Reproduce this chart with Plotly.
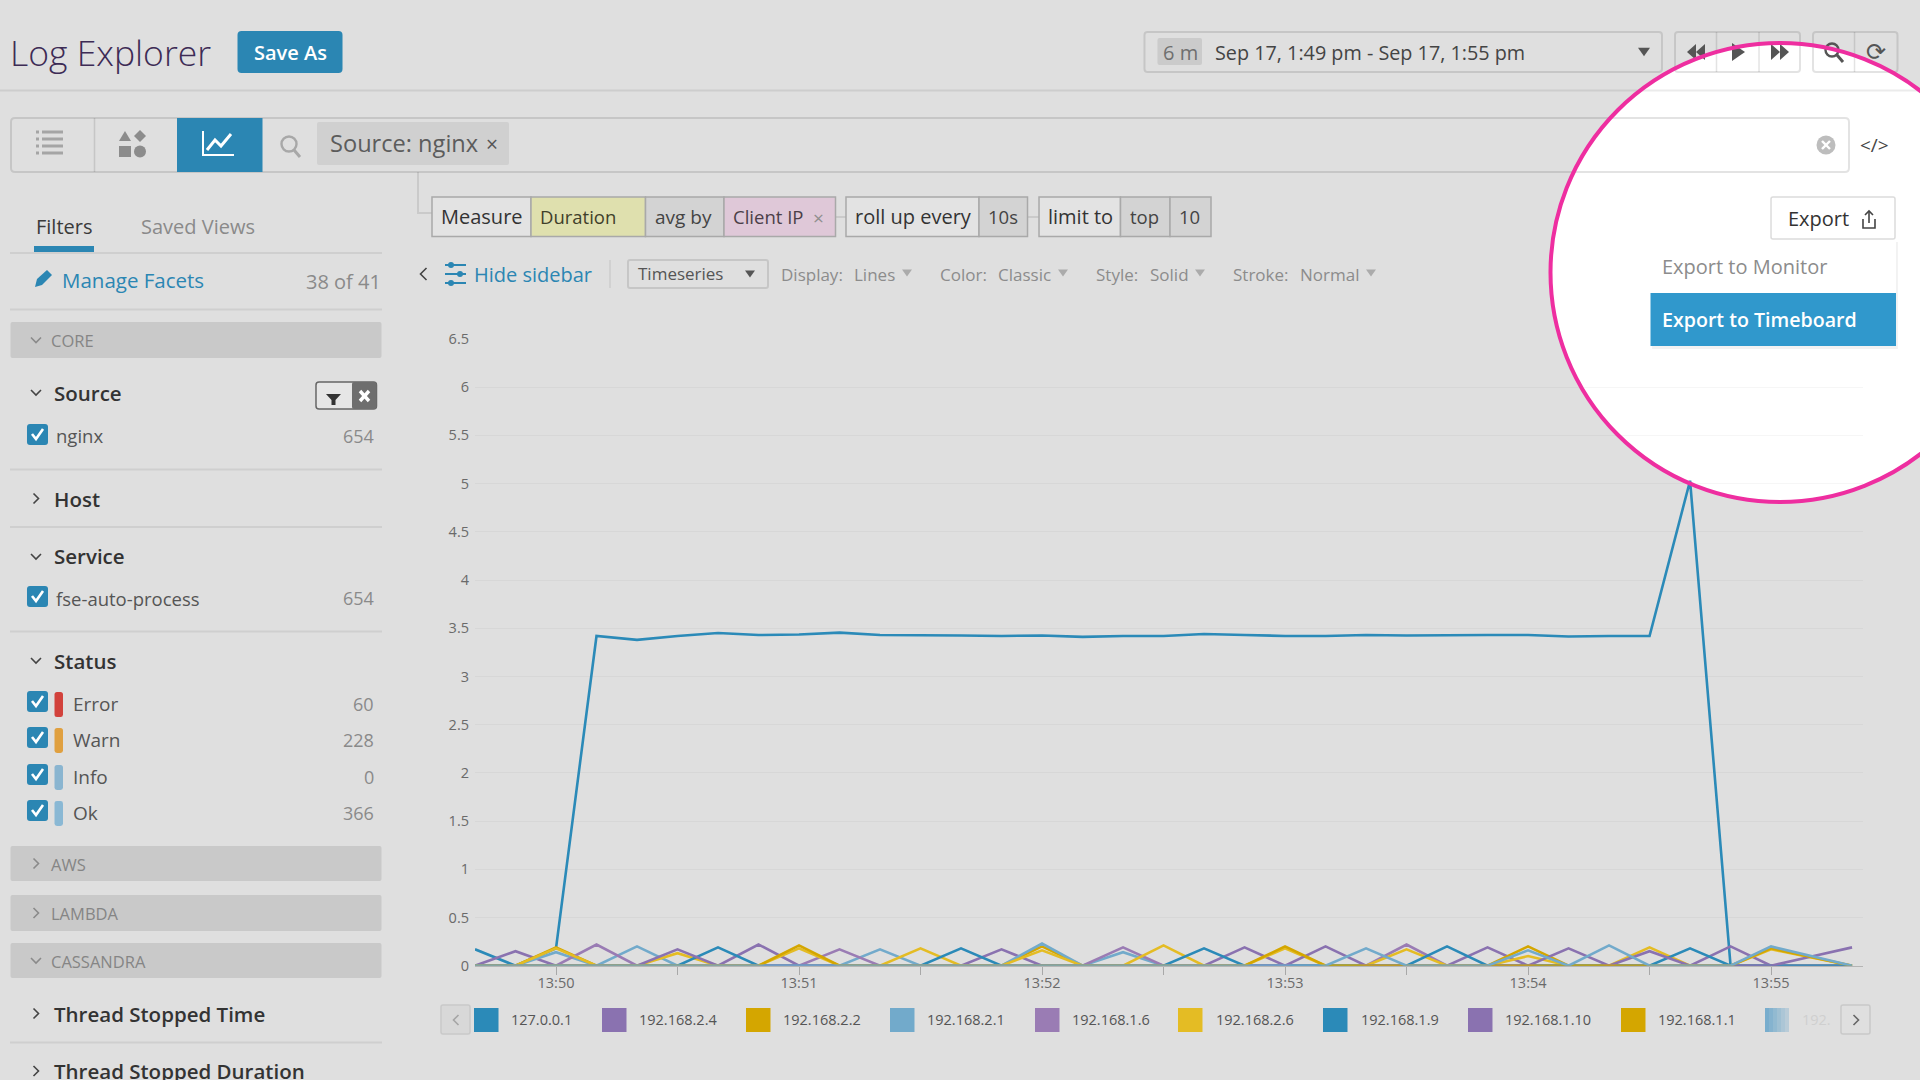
import pandas as pd
import plotly.graph_objects as go

W, H = 1920, 1080
FONT = "Open Sans"

TIMES = pd.date_range("2018-09-17 13:49:40", periods=35, freq="10s")

SERIES_NAMES = [
    "127.0.0.1", "192.168.2.4", "192.168.2.2", "192.168.2.1", "192.168.1.6",
    "192.168.2.6", "192.168.1.9", "192.168.1.10", "192.168.1.1", "192.",
]
SERIES_COLORS = [
    "#2b8ab8", "#8a72b0", "#d4a600", "#72aacb", "#9a7cb4",
    "#e4bc24", "#2b8ab8", "#8a72b0", "#d4a600", "#72aacb",
]

V_127_0_0_1 = [0.17, 0, 0.18, 3.42, 3.38, 3.42, 3.45, 3.43, 3.435, 3.455, 3.43, 3.43,
               3.425, 3.42, 3.425, 3.41, 3.42, 3.42, 3.44, 3.43, 3.42, 3.42, 3.43, 3.425,
               3.43, 3.43, 3.43, 3.415, 3.42, 3.42, 5.03, 0, 0, 0, 0]
V_2_4 = [0, 0.15, 0, 0, 0, 0, 0, 0.22, 0, 0, 0, 0, 0, 0.17, 0, 0, 0, 0, 0, 0.19, 0, 0, 0, 0,
         0, 0.19, 0, 0, 0, 0, 0, 0.2, 0, 0, 0]
V_2_2 = [0, 0, 0.19, 0, 0, 0, 0, 0, 0, 0, 0, 0, 0, 0, 0.2, 0, 0, 0, 0, 0, 0, 0, 0, 0,
         0, 0, 0.2, 0, 0, 0, 0, 0, 0, 0, 0]
V_2_1 = [0, 0, 0.14, 0, 0.2, 0, 0, 0, 0, 0, 0.17, 0, 0, 0, 0.23, 0, 0.14, 0, 0, 0, 0, 0, 0, 0,
         0, 0, 0, 0, 0, 0, 0, 0, 0, 0, 0]
V_1_6 = [0, 0, 0, 0.22, 0, 0, 0, 0, 0, 0.17, 0, 0, 0, 0, 0, 0, 0.19, 0, 0, 0, 0, 0, 0, 0.22,
         0, 0, 0, 0, 0, 0, 0, 0, 0, 0, 0]
V_2_6 = [0, 0, 0.18, 0, 0, 0.13, 0, 0, 0.18, 0, 0, 0.18, 0, 0, 0.16, 0, 0, 0.21, 0, 0, 0.18, 0, 0, 0.17,
         0, 0, 0.1, 0, 0, 0.19, 0, 0, 0.17, 0.085, 0]
V_1_9 = [0, 0, 0, 0, 0, 0, 0.19, 0, 0, 0, 0, 0, 0.18, 0, 0, 0, 0, 0, 0.18, 0, 0, 0, 0, 0,
         0.2, 0, 0, 0, 0, 0, 0.18, 0, 0, 0, 0]
V_1_10 = [0, 0, 0, 0, 0, 0.17, 0, 0, 0, 0, 0, 0, 0, 0, 0, 0, 0, 0, 0, 0, 0, 0.2, 0, 0,
          0, 0, 0, 0.18, 0, 0.15, 0, 0, 0, 0.095, 0.19]
V_1_1 = [0, 0, 0, 0, 0, 0, 0, 0, 0.21, 0, 0, 0, 0, 0, 0, 0, 0, 0, 0, 0, 0.2, 0, 0, 0,
         0, 0, 0, 0, 0, 0, 0, 0, 0.18, 0.09, 0]
V_LAST = [0, 0, 0, 0, 0, 0, 0, 0, 0, 0, 0, 0, 0, 0, 0, 0, 0, 0, 0, 0, 0, 0, 0.18, 0,
          0, 0, 0.16, 0, 0.21, 0, 0, 0, 0.2, 0.1, 0]
SERIES_VALUES = [V_127_0_0_1, V_2_4, V_2_2, V_2_1, V_1_6, V_2_6, V_1_9, V_1_10, V_1_1, V_LAST]

Y_TICKS = [0, 0.5, 1, 1.5, 2, 2.5, 3, 3.5, 4, 4.5, 5, 5.5, 6, 6.5]
Y_LABELS = ["0", "0.5", "1", "1.5", "2", "2.5", "3", "3.5", "4", "4.5", "5", "5.5", "6", "6.5"]
X_TICKS = pd.date_range("2018-09-17 13:50:00", periods=11, freq="30s")
X_LABELS = ["13:50", "", "13:51", "", "13:52", "", "13:53", "", "13:54", "", "13:55"]

# left facets: label, count, row y
FACET_ROWS = [("nginx", "654", 436), ("fse-auto-process", "654", 598)]
STATUS_ROWS = [("Error", "60", 704, "#d2423c"), ("Warn", "228", 740, "#e0a040"),
               ("Info", "0", 777, "#8ab5d0"), ("Ok", "366", 813, "#8ab8d4")]
SWATCH_X = [474, 602, 746, 890, 1035, 1178, 1323, 1468, 1621, 1765]
LABEL_X = [511, 639, 783, 927, 1072, 1216, 1361, 1505, 1658, 1802]

BLUE = "#2b86b3"
EDGE = "rgba(0,0,0,0.11)"
shapes, notes = [], []


def X(x):
    return x / W


def Y(y):
    return 1 - y / H


def path(d, fill=None, line=None, lw=1, layer="below"):
    shapes.append(dict(type="path", path=d, xref="paper", yref="paper", layer=layer,
                       fillcolor=fill or "rgba(0,0,0,0)",
                       line=dict(color=line or "rgba(0,0,0,0)", width=lw if line else 0)))


def rect(x0, y0, x1, y1, fill=None, line=None, lw=1, r=0, layer="below"):
    p = lambda x, y: f"{X(x):.5f},{Y(y):.5f}"
    if r:
        d = (f"M{p(x0 + r, y0)} L{p(x1 - r, y0)} Q{p(x1, y0)} {p(x1, y0 + r)} "
             f"L{p(x1, y1 - r)} Q{p(x1, y1)} {p(x1 - r, y1)} L{p(x0 + r, y1)} "
             f"Q{p(x0, y1)} {p(x0, y1 - r)} L{p(x0, y0 + r)} Q{p(x0, y0)} {p(x0 + r, y0)} Z")
    else:
        d = f"M{p(x0, y0)} L{p(x1, y0)} L{p(x1, y1)} L{p(x0, y1)} Z"
    path(d, fill, line, lw, layer)


def poly(pts, fill=None, line=None, lw=1, close=False, layer="below"):
    d = "M" + " L".join(f"{X(x):.5f},{Y(y):.5f}" for x, y in pts) + (" Z" if close else "")
    path(d, fill, line, lw, layer)


def hline(y, x0, x1, color="rgba(0,0,0,0.07)", lw=2):
    poly([(x0, y), (x1, y)], line=color, lw=lw)


def vline(x, y0, y1, color=EDGE, lw=1.5):
    poly([(x, y0), (x, y1)], line=color, lw=lw)


def circle(cx, cy, r, fill=None, line=None, lw=1, layer="below"):
    shapes.append(dict(type="circle", xref="paper", yref="paper", layer=layer,
                       x0=X(cx - r), x1=X(cx + r), y0=Y(cy + r), y1=Y(cy - r),
                       fillcolor=fill or "rgba(0,0,0,0)",
                       line=dict(color=line or "rgba(0,0,0,0)", width=lw if line else 0)))


def text(x, y, s, size=20, color="#555555", anchor="left", weight=None, family=FONT):
    notes.append(dict(x=X(x), y=Y(y), xref="paper", yref="paper", text=s, showarrow=False,
                      xanchor=anchor, yanchor="middle", borderpad=0, borderwidth=0,
                      font=dict(family=family, size=size, color=color, weight=weight)))


def chevron(x, y, kind="down", color="#666666", s=5):
    if kind == "down":
        poly([(x - s, y - s / 2), (x, y + s / 2), (x + s, y - s / 2)], line=color, lw=1.6)
    elif kind == "right":
        poly([(x - s / 2, y - s), (x + s / 2, y), (x - s / 2, y + s)], line=color, lw=1.6)
    else:
        poly([(x + s / 2, y - s), (x - s / 2, y), (x + s / 2, y + s)], line=color, lw=1.6)


def caret(x, y, color="#a0a0a0", s=5):
    poly([(x - s, y - s * 0.7), (x + s, y - s * 0.7), (x, y + s * 0.7)], fill=color, close=True)


def checkbox(y):
    rect(27, y - 11, 48, y + 10, fill=BLUE, r=3)
    poly([(32, y - 1), (36, y + 4), (43, y - 6)], line="#ffffff", lw=2.6)


# spotlight circle sits under all the chrome, its ring goes on top at the end
circle(1780, 272.5, 229.5, fill="#ffffff")

# --- header ---
text(10, 52, "Log Explorer", size=35.5, color="#3d2b55", weight=300)
rect(237.5, 31, 342.5, 73, fill=BLUE, r=4)
text(290, 52, "Save As", size=20, color="#ffffff", anchor="center", weight=600)
hline(90.5, 0, W, color="rgba(0,0,0,0.08)")

rect(1144.5, 32, 1662, 72, line=EDGE, lw=2, r=3)
rect(1157.5, 38, 1202, 65, fill="#cbcbcb", r=2)
text(1180, 52, "6 m", size=20, color="#6f6f6f", anchor="center")
text(1215, 52, "Sep 17, 1:49 pm - Sep 17, 1:55 pm", size=19.8, color="#444444")
caret(1644, 52, color="#555555", s=6)

rect(1675, 32, 1800, 72, line=EDGE, lw=2, r=3)
vline(1716.5, 32, 72)
vline(1759, 32, 72)
rect(1813, 32, 1897.5, 72, line=EDGE, lw=2, r=3)
vline(1854.5, 32, 72)
ICON = "#555555"
poly([(1696, 44), (1696, 60), (1687, 52)], fill=ICON, close=True)
poly([(1705, 44), (1705, 60), (1696, 52)], fill=ICON, close=True)
poly([(1732, 43), (1732, 61), (1745, 52)], fill=ICON, close=True)
poly([(1771, 44), (1771, 60), (1780, 52)], fill=ICON, close=True)
poly([(1780, 44), (1780, 60), (1789, 52)], fill=ICON, close=True)
circle(1832, 50, 6.5, line=ICON, lw=2.4)
poly([(1837, 55), (1843, 62)], line=ICON, lw=3)
text(1876, 52, "⟳", size=24, color=ICON, anchor="center", family="DejaVu Sans")

# --- search bar ---
rect(11, 118, 1849, 172, line=EDGE, lw=2, r=4)
vline(94.5, 118, 172)
rect(177, 118, 262.5, 172, fill=BLUE)
for ly in (132, 139, 146, 153):
    poly([(36, ly), (39, ly)], line="#a5a5a5", lw=3)
    poly([(42, ly), (63, ly)], line="#a5a5a5", lw=3)
ICON2 = "#8c8c8c"
poly([(125, 131), (131, 141), (119, 141)], fill=ICON2, close=True)
poly([(140, 130), (146, 136), (140, 142), (134, 136)], fill=ICON2, close=True)
rect(119, 146, 131, 157, fill=ICON2)
circle(140, 151.5, 6, fill=ICON2)
poly([(203, 131), (203, 155), (234, 155)], line="#ffffff", lw=2)
poly([(207, 150), (215, 140), (221, 146), (231, 134)], line="#ffffff", lw=3)
circle(289, 144, 7.5, line="#a8a8a8", lw=2.4)
poly([(294, 150), (300, 157)], line="#a8a8a8", lw=3)
rect(317, 122, 509, 165, fill="#d0d0d0", r=2)
text(330, 143, "Source: nginx", size=23.6, color="#5c5c5c")
text(492, 144, "×", size=21, color="#555555", anchor="center")
circle(1826, 145, 9.5, fill="#bdbdbd")
poly([(1822, 141), (1830, 149)], line="#ffffff", lw=2.4)
poly([(1830, 141), (1822, 149)], line="#ffffff", lw=2.4)
text(1874, 145, "&lt;/&gt;", size=19, color="#444444", anchor="center")

# --- query builder ---
poly([(418, 172), (418, 213), (432, 213)], line="rgba(0,0,0,0.09)", lw=2)
poly([(835, 217), (846, 217)], line="rgba(0,0,0,0.09)", lw=2)
poly([(1027, 217), (1039, 217)], line="rgba(0,0,0,0.09)", lw=2)
BOXES = [(432, 531, "#e3e3e3", "Measure", 20, "#333333"), (531, 645.5, "#dfe0ae", "Duration", 18.5, "#3f3f2a"),
         (645.5, 724, "#d3d3d3", "avg by", 19, "#444444"), (724, 835.5, "#dfc8d8", "Client IP", 18.5, "#4b3f48"),
         (846, 979, "#e3e3e3", "roll up every", 20, "#333333"), (979, 1027.5, "#d3d3d3", "10s", 18.5, "#444444"),
         (1039, 1120.5, "#e3e3e3", "limit to", 20, "#333333"), (1120.5, 1170, "#d3d3d3", "top", 18.5, "#444444"),
         (1170, 1211, "#d3d3d3", "10", 18.5, "#444444")]
for bx0, bx1, bfill, blabel, bsize, bcolor in BOXES:
    rect(bx0, 197, bx1, 236.5, fill=bfill, line="#a9a9a9", lw=1.5)
    text(bx0 + 9, 216.5, blabel, size=bsize, color=bcolor)
text(818, 218, "×", size=19, color="#8f8f8f", anchor="center")

# --- chart options row ---
chevron(423.5, 274, kind="left", color="#444444", s=6)
for sy, sx in ((265, 451), (274, 460), (283, 451)):
    poly([(445, sy), (466, sy)], line=BLUE, lw=2)
    circle(sx, sy, 3, fill=BLUE)
text(474, 274, "Hide sidebar", size=20, color=BLUE)
vline(610, 260, 288, color="rgba(0,0,0,0.08)")
rect(628, 260, 768, 288, line=EDGE, lw=2, r=2)
text(638, 273, "Timeseries", size=17, color="#555555")
caret(750, 274, color="#555555", s=5)
OPTIONS = [(781, "Display:", 854, "Lines", 907), (940, "Color:", 998, "Classic", 1063),
           (1096, "Style:", 1150, "Solid", 1200), (1233, "Stroke:", 1300, "Normal", 1371)]
for ox, oname, vx, oval, cx in OPTIONS:
    text(ox, 274.5, oname, size=17, color="#8c8c8c")
    text(vx, 274.5, oval, size=17, color="#8c8c8c")
    caret(cx, 273, color="#ababab", s=5)

# --- sidebar ---
text(36, 226, "Filters", size=20, color="#3a3a3a")
text(141, 226, "Saved Views", size=20, color="#8a8a8a")
rect(34, 246, 94, 252, fill=BLUE)
hline(253, 10, 382)
poly([(35, 287), (37, 279), (47, 270), (52, 275), (42, 285)], fill=BLUE, close=True)
text(62, 280, "Manage Facets", size=20.5, color=BLUE)
text(381, 281, "38 of 41", size=20, color="#8a8a8a", anchor="right")
hline(309.5, 10, 382)

for by0, by1, blabel, bkind in [(322, 358, "CORE", "down"), (846, 881, "AWS", "right"),
                                (895, 931, "LAMBDA", "right"), (943, 978, "CASSANDRA", "down")]:
    rect(10.5, by0, 381.5, by1, fill="#c9c9c9", r=2)
    chevron(36, (by0 + by1) / 2, kind=bkind, color="#8a8a8a")
    text(51, (by0 + by1) / 2 + 0.5, blabel, size=16.5, color="#858585")

for hy, hlabel, hkind in [(392.5, "Source", "down"), (498.5, "Host", "right"), (556.5, "Service", "down"),
                          (660.5, "Status", "down"), (1013.5, "Thread Stopped Time", "right"),
                          (1071, "Thread Stopped Duration", "right")]:
    chevron(36, hy, kind=hkind, color="#444444")
    text(54, hy, hlabel, size=20.5, color="#333333", weight=600)
for ly in (469.5, 527, 631.5, 1042.5):
    hline(ly, 10, 382)

rect(316, 382, 376.5, 409, fill="#e6e6e6", line="#666666", lw=1.5, r=3)
rect(352, 382, 376.5, 409, fill="#6e6e6e", r=2)
poly([(326, 394), (341, 394), (335.5, 400), (335.5, 405), (331.5, 405), (331.5, 400)], fill="#333333", close=True)
poly([(360, 391), (369, 401)], line="#ffffff", lw=3.4)
poly([(369, 391), (360, 401)], line="#ffffff", lw=3.4)

for rlabel, rcount, ry in FACET_ROWS:
    checkbox(ry - 1)
    text(56, ry, rlabel, size=18.5, color="#555555")
    text(374, ry, rcount, size=18, color="#8a8a8a", anchor="right")
for rlabel, rcount, ry, rcolor in STATUS_ROWS:
    checkbox(ry - 2)
    rect(54.5, ry - 12, 63, ry + 13, fill=rcolor, r=2.5)
    text(72.5, ry, rlabel, size=19, color="#555555")
    text(374, ry, rcount, size=18, color="#8a8a8a", anchor="right")

# --- chart legend ---
rect(441, 1005, 470, 1034, fill="#d8d8d8", line="#c9c9c9", lw=1.5, r=2)
chevron(456, 1020, kind="left", color="#a5a5a5", s=5)
rect(1841, 1005, 1870, 1034, line="#c9c9c9", lw=1.5, r=2)
chevron(1856, 1020, kind="right", color="#666666", s=5)
for i, name in enumerate(SERIES_NAMES):
    sw = SWATCH_X[i]
    if i < len(SERIES_NAMES) - 1:
        rect(sw, 1008, sw + 24.5, 1032, fill=SERIES_COLORS[i])
        text(LABEL_X[i], 1019.5, name, size=14.5, color="#555555")
    else:
        # last swatch fades out under the scroll arrow
        for k in range(6):
            shade = 0.95 - k * 0.12
            rect(sw + k * 4, 1008, sw + (k + 1) * 4, 1032, fill=f"rgba(114,170,203,{shade:.2f})")
        text(LABEL_X[i], 1019.5, name, size=14.5, color="#cfcfcf")

# --- export menu, above the grid lines ---
rect(1771, 197, 1895, 239, fill="#ffffff", line="#dcdcdc", lw=1.5, r=2, layer="above")
text(1788, 219, "Export", size=20, color="#333333")
poly([(1863, 219), (1863, 228), (1875, 228), (1875, 219)], line="#444444", lw=1.6, layer="above")
poly([(1869, 223), (1869, 212)], line="#444444", lw=1.6, layer="above")
poly([(1865, 215), (1869, 211), (1873, 215)], line="#444444", lw=1.6, layer="above")
rect(1652, 242, 1898, 349, fill="rgba(0,0,0,0.05)", layer="above")
rect(1650.5, 241, 1896, 346, fill="#ffffff", layer="above")
rect(1650.5, 293, 1896, 346, fill="#3098cc", layer="above")
text(1662, 266.5, "Export to Monitor", size=20, color="#8c8c8c")
text(1662, 319.5, "Export to Timeboard", size=19.6, color="#ffffff", weight=600)

circle(1780, 272.5, 229.5, line="#ee2ea0", lw=4, layer="above")

fig = go.Figure()
for name, vals, color in zip(SERIES_NAMES, SERIES_VALUES, SERIES_COLORS):
    fig.add_trace(go.Scatter(x=TIMES, y=vals, name=name, mode="lines", cliponaxis=False,
                             line=dict(color=color, width=2.6), hoverinfo="x+y+name"))

fig.update_layout(
    width=W, height=H,
    margin=dict(l=0, r=0, t=0, b=0),
    paper_bgcolor="#dfdfdf",
    plot_bgcolor="rgba(0,0,0,0)",
    showlegend=False,
    shapes=shapes,
    annotations=notes,
    font=dict(family=FONT),
)
fig.update_xaxes(
    automargin=False,
    domain=[X(475), X(1863)],
    range=["2018-09-17 13:49:40", "2018-09-17 13:55:22.7"],
    tickmode="array", tickvals=X_TICKS, ticktext=X_LABELS,
    ticks="outside", ticklen=8, tickwidth=1, tickcolor="#a8a8a8",
    ticklabelstandoff=-4,
    tickfont=dict(size=14.5, color="#6a6a6a", family=FONT),
    showgrid=False, zeroline=False, showline=True, linecolor="#b5b5b5", linewidth=1,
)
fig.update_yaxes(
    automargin=False,
    domain=[Y(965.7), Y(339)],
    range=[0, 6.5],
    tickmode="array", tickvals=Y_TICKS, ticktext=Y_LABELS,
    ticks="", ticklabelstandoff=5,
    tickfont=dict(size=14.5, color="#6a6a6a", family=FONT),
    showgrid=True, gridcolor="rgba(0,0,0,0.035)", gridwidth=1,
    zeroline=False, showline=False,
)

fig.write_html(
    "out.html",
    config={"displayModeBar": False},
    post_script="document.body.style.margin='0';document.body.style.overflow='hidden';",
)
